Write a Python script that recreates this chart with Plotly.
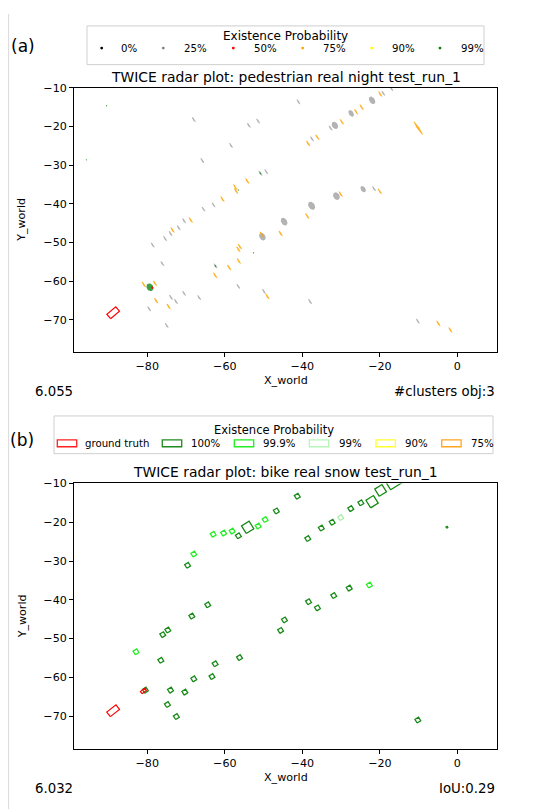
import numpy as np
import plotly.graph_objects as go

# page body has an 8px margin: the figure is laid out in reference pixels minus OFF
OFF = 8
W, H = 547 - OFF, 809 - OFF

# ---------------- data: panel (a) pedestrian ----------------
title_a = "TWICE radar plot: pedestrian real night test_run_1"
legend_a_labels = ["0%", "25%", "50%", "75%", "90%", "99%"]
legend_a_colors = ["black", "gray", "red", "orange", "yellow", "green"]

gray_x = [-41.0, -19.1, -17.0, -32.7, -68.0, -53.8, -51.4, -58.4, -65.8, -37.5, -49.3, -50.8,
          -62.9, -65.5, -70.5, -71.9, -74.0, -75.4, -78.6, -76.1, -21.5, -56.5, -49.9, -70.5,
          -73.9, -72.6, -66.6, -79.5, -75.0, -38.0, -10.2, -62.4,
          -22.0, -27.4, -31.6, -37.6, -44.7, -50.3, -31.2, -24.3]
gray_y = [-13.6, -11.4, -10.2, -20.4, -18.2, -19.7, -18.6, -24.9, -28.8, -23.2, -31.7, -32.1,
          -40.3, -41.4, -44.4, -46.2, -47.7, -49.0, -50.7, -55.5, -36.1, -61.4, -62.7, -63.2,
          -64.2, -65.3, -64.3, -67.2, -71.5, -65.3, -70.4, -56.1,
          -13.2, -16.6, -19.7, -40.5, -44.6, -48.5, -38.0, -36.2]
gray_major = [1.6] * 32 + [2.2, 1.9, 2.0, 2.3, 2.2, 2.1, 2.1, 1.8]
gray_minor = [0.45] * 32 + [1.4, 1.2, 1.5, 1.6, 1.5, 1.5, 1.6, 1.2]

orange_x = [-19.9, -26.1, -24.7, -29.8, -38.5, -36.1, -54.2, -57.3, -57.1, -60.6, -68.8, -73.5,
            -30.1, -20.0, -38.7, -45.6, -50.5, -56.5, -56.1, -56.4, -58.9, -62.5, -80.9, -78.0,
            -77.7, -74.5, -49.0, -4.9, -1.8, -10.1]
orange_y = [-11.6, -16.2, -15.0, -18.8, -24.4, -22.8, -34.1, -35.7, -36.7, -38.8, -44.2, -46.8,
            -37.5, -36.8, -43.2, -47.7, -47.9, -51.8, -51.1, -54.8, -56.5, -58.5, -60.9, -60.6,
            -65.1, -66.6, -64.0, -71.0, -72.7, -20.4]
orange_major = [1.8] * 29 + [4.2]
orange_minor = [0.45] * 29 + [0.6]

green_x = [-90.5, -95.7, -50.8, -56.5, -52.6, -62.4, -79.3]
green_y = [-14.6, -28.6, -32.1, -36.4, -52.7, -56.1, -61.6]
green_major = [0.4, 0.4, 0.55, 0.45, 0.45, 0.55, 2.1]
green_minor = [0.35, 0.35, 0.45, 0.4, 0.4, 0.45, 1.7]

red_x = [-78.7]
red_y = [-61.7]
red_major = [0.7]
red_minor = [0.55]

gt_a_x, gt_a_y, gt_a_len, gt_a_wid = [-88.8], [-68.2], [3.0], [1.5]

# ---------------- data: panel (b) bike ----------------
title_b = "TWICE radar plot: bike real snow test_run_1"
legend_b_labels = ["ground truth", "100%", "99.9%", "99%", "90%", "75%"]
legend_b_colors = ["#ff2020", "#1e8c1e", "#22ee22", "#b8f5b8", "#ffff30", "#ffa520"]

dg_x = [-41.3, -46.7, -56.5, -69.6, -38.6, -35.1, -32.3, -27.5, -24.9, -64.4, -68.5, -74.7,
        -76.0, -76.5, -38.4, -36.1, -31.9, -27.9, -44.6, -45.6, -56.2, -62.5, -63.3, -68.0,
        -74.0, -70.3, -80.5, -74.8, -72.5, -10.2,
        -54.1, -22.0, -19.8, -16.5, -2.7]
dg_y = [-13.3, -17.1, -23.5, -31.1, -24.2, -21.5, -20.0, -16.5, -15.0, -41.3, -44.2, -47.8,
        -49.0, -55.6, -40.5, -42.1, -38.9, -37.0, -45.2, -47.9, -54.9, -56.5, -59.8, -60.4,
        -63.3, -63.8, -63.3, -67.0, -70.1, -71.0,
        -21.3, -14.7, -11.8, -8.6, -21.3]
dg_side = [1.1] * 30 + [2.3, 2.3, 2.2, 4.4, 0.35]

lime_x = [-63.0, -60.3, -58.1, -51.4, -49.6, -68.0, -22.7, -82.9]
lime_y = [-23.1, -22.8, -22.3, -21.0, -19.3, -28.2, -36.2, -53.4]
lime_side = [1.1] * 8

lg_x, lg_y, lg_side = [-30.1], [-18.8], [1.1]

gt_b_x = [-88.8, -81.0]
gt_b_y = [-68.6, -63.5]
gt_b_len = [3.0, 1.4]
gt_b_wid = [1.5, 0.7]

x_range = [-98.9, 10.3]
ya_range = [-78.3, -10.0]
yb_range = [-78.5, -10.0]
x_ticks = [-80, -60, -40, -20, 0]
y_ticks = [-70, -60, -50, -40, -30, -20, -10]


def ellipses(xs, ys, majors, minors, angle_deg, n=30):
    t = np.linspace(0, 2 * np.pi, n)
    a = np.deg2rad(angle_deg)
    X, Y = [], []
    for cx, cy, M, m in zip(xs, ys, majors, minors):
        ex = M / 2 * np.cos(t)
        ey = m / 2 * np.sin(t)
        X += list(cx + ex * np.cos(a) - ey * np.sin(a)) + [None]
        Y += list(cy + ex * np.sin(a) + ey * np.cos(a)) + [None]
    return X, Y


def rects(xs, ys, lens, wids, angle_deg):
    a = np.deg2rad(angle_deg)
    X, Y = [], []
    for cx, cy, L, Wd in zip(xs, ys, lens, wids):
        pts = [(-L / 2, -Wd / 2), (L / 2, -Wd / 2), (L / 2, Wd / 2), (-L / 2, Wd / 2), (-L / 2, -Wd / 2)]
        for u, v in pts:
            X.append(cx + u * np.cos(a) - v * np.sin(a))
            Y.append(cy + u * np.sin(a) + v * np.cos(a))
        X.append(None)
        Y.append(None)
    return X, Y


fig = go.Figure()
ELL_ANGLE = -57


def add_fill(xs, ys, M, m, color, ax, ang=ELL_ANGLE):
    X, Y = ellipses(xs, ys, M, m, ang)
    fig.add_trace(go.Scatter(x=X, y=Y, mode="lines", fill="toself", fillcolor=color,
                             line=dict(width=0, color=color), hoverinfo="skip",
                             showlegend=False, xaxis=ax[0], yaxis=ax[1]))


def add_outline(xs, ys, L, Wd, ang, color, ax, width=1.3):
    X, Y = rects(xs, ys, L, Wd, ang)
    fig.add_trace(go.Scatter(x=X, y=Y, mode="lines", line=dict(width=width, color=color),
                             hoverinfo="skip", showlegend=False, xaxis=ax[0], yaxis=ax[1]))


A = ("x", "y")
B = ("x2", "y2")
add_fill(gray_x, gray_y, gray_major, gray_minor, "rgba(128,128,128,0.6)", A)
add_fill(orange_x, orange_y, orange_major, orange_minor, "rgba(255,165,0,0.85)", A)
add_fill(green_x, green_y, green_major, green_minor, "rgba(0,128,0,0.75)", A)
add_fill(red_x, red_y, red_major, red_minor, "rgba(255,0,0,0.9)", A)
add_outline(gt_a_x, gt_a_y, gt_a_len, gt_a_wid, 40, "#ff0000", A, 1.2)

add_outline(dg_x, dg_y, dg_side, dg_side, 32, "#168a16", B)
add_outline(lime_x, lime_y, lime_side, lime_side, 32, "#22ee22", B)
add_outline(lg_x, lg_y, lg_side, lg_side, 32, "#a8f0a8", B)
add_outline(gt_b_x, gt_b_y, gt_b_len, gt_b_wid, 38, "#ff0000", B, 1.2)

FONT = "DejaVu Sans"


def px(x):
    return (x - OFF) / W


def py(y):
    return 1 - (y - OFF) / H


axis_common = dict(showgrid=False, zeroline=False, showline=True, mirror=True,
                   linecolor="black", linewidth=1, ticks="outside", ticklen=4,
                   tickwidth=0.9, tickcolor="black",
                   tickfont=dict(family=FONT, size=11.1, color="black"))

fig.update_layout(
    width=W, height=H, margin=dict(l=0, r=0, t=0, b=0),
    paper_bgcolor="white", plot_bgcolor="white",
    xaxis=dict(domain=[px(74), px(497.3)], range=x_range, tickvals=x_ticks, anchor="y", **axis_common),
    yaxis=dict(domain=[py(348.3), py(82.5)], range=ya_range, tickvals=y_ticks, anchor="x", **axis_common),
    xaxis2=dict(domain=[px(74), px(497.3)], range=x_range, tickvals=x_ticks, anchor="y2", **axis_common),
    yaxis2=dict(domain=[py(748.7), py(481)], range=yb_range, tickvals=y_ticks, anchor="x2", **axis_common),
    showlegend=False,
)

ann = []
shapes = []


def text(x, y, s, size, xanchor="center", angle=0):
    ann.append(dict(x=px(x), y=py(y), xref="paper", yref="paper", text=s, showarrow=False,
                    xanchor=xanchor, yanchor="middle", textangle=angle,
                    font=dict(family=FONT, size=size, color="black")))


# faint separator at the left edge
shapes.append(dict(type="line", xref="paper", yref="paper", x0=px(8.6), x1=px(8.6), y0=0, y1=1,
                   line=dict(color="#dadada", width=1), layer="below"))

# panel labels and titles
text(9, 40, "(a)", 17, "left")
text(8, 437, "(b)", 17, "left")
text(285.7, 71, title_a, 13.9)
text(285.7, 469, title_b, 13.9)
text(285.7, 377, "X_world", 11.1)
text(285.7, 777, "X_world", 11.1)
text(22, 215.4, "Y_world", 11.1, angle=-90)
text(22, 614.9, "Y_world", 11.1, angle=-90)
text(33, 388, "6.055", 13.3, "left")
text(497, 388, "#clusters obj:3", 13.3, "right")
text(33, 788, "6.032", 13.3, "left")
text(497, 788, "IoU:0.29", 13.3, "right")

# legend (a)
shapes.append(dict(type="rect", xref="paper", yref="paper", x0=px(87), x1=px(484), y0=py(59), y1=py(20),
                   line=dict(color="#cfcfcf", width=1), fillcolor="white", layer="below"))
text(285.5, 30.5, "Existence Probability", 12)
dot_x = [101.7, 163.3, 233.3, 302.7, 371.7, 440.0]
lab_x = [119.3, 181.7, 251.7, 320.7, 390.0, 459.3]
for dx, lx, lab, col in zip(dot_x, lab_x, legend_a_labels, legend_a_colors):
    r = 1.4
    shapes.append(dict(type="circle", xref="paper", yref="paper", x0=px(dx - r), x1=px(dx + r),
                       y0=py(42.3 + r), y1=py(42.3 - r), line=dict(width=0), fillcolor=col))
    text(lx, 42.3, lab, 10.2, "left")

# legend (b)
shapes.append(dict(type="rect", xref="paper", yref="paper", x0=px(54), x1=px(493), y0=py(451), y1=py(413),
                   line=dict(color="#cfcfcf", width=1), fillcolor="white", layer="below"))
text(273.5, 427.5, "Existence Probability", 11.5)
patch_x = [57.3, 162.3, 234.3, 309.3, 376.0, 441.7]
labb_x = [83.3, 189.3, 261.0, 336.7, 403.3, 469.3]
for pxl, lx, lab, col in zip(patch_x, labb_x, legend_b_labels, legend_b_colors):
    shapes.append(dict(type="rect", xref="paper", yref="paper", x0=px(pxl), x1=px(pxl + 19.4),
                       y0=py(444), y1=py(437), line=dict(color=col, width=1.3), fillcolor="rgba(0,0,0,0)"))
    text(lx, 440.7, lab, 10.2, "left")

fig.update_layout(annotations=ann, shapes=shapes)
fig.write_html("out.html")
